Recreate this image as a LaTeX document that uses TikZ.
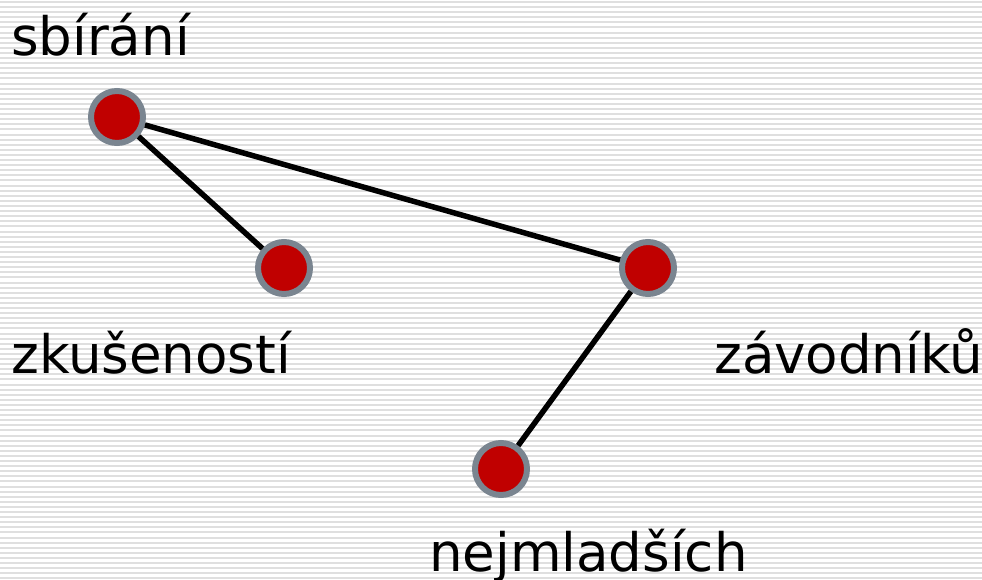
\documentclass[tikz,border=0pt]{standalone}
\usepackage{fontspec}
\setmainfont{DejaVu Sans}
\definecolor{dotred}{HTML}{C00000}
\definecolor{ringgray}{HTML}{7A8590}
\definecolor{stripe}{HTML}{DFDFDF}
\begin{document}
\begin{tikzpicture}[x=1pt,y=-1pt,
  dot/.style={circle,fill=dotred,draw=ringgray,line width=6pt,minimum size=52pt,inner sep=0pt},
  edge/.style={line width=5.5pt,black},
  lbl/.style={anchor=base west,inner sep=0pt,font=\fontsize{53}{62}\selectfont}]
\useasboundingbox (0,0) rectangle (982,580);
\fill[white] (0,0) rectangle (982,580);
\foreach \yy in {2,7.1,...,580} \draw[stripe,line width=2pt] (0,\yy) -- (982,\yy);
\node[dot] (a) at (117,117) {};
\node[dot] (b) at (284,268) {};
\node[dot] (c) at (648,268) {};
\node[dot] (d) at (501,469) {};
\draw[edge] (a) -- (b);
\draw[edge] (a) -- (c);
\draw[edge] (c) -- (d);
\node[lbl] (la) at (11,56) {sbírání};
\node[lbl] (lb) at (11,373) {zkušeností};
\node[lbl] (lc) at (714,373) {závodníků};
\node[lbl] (ld) at (429,571) {nejmladších};
\end{tikzpicture}
\end{document}
